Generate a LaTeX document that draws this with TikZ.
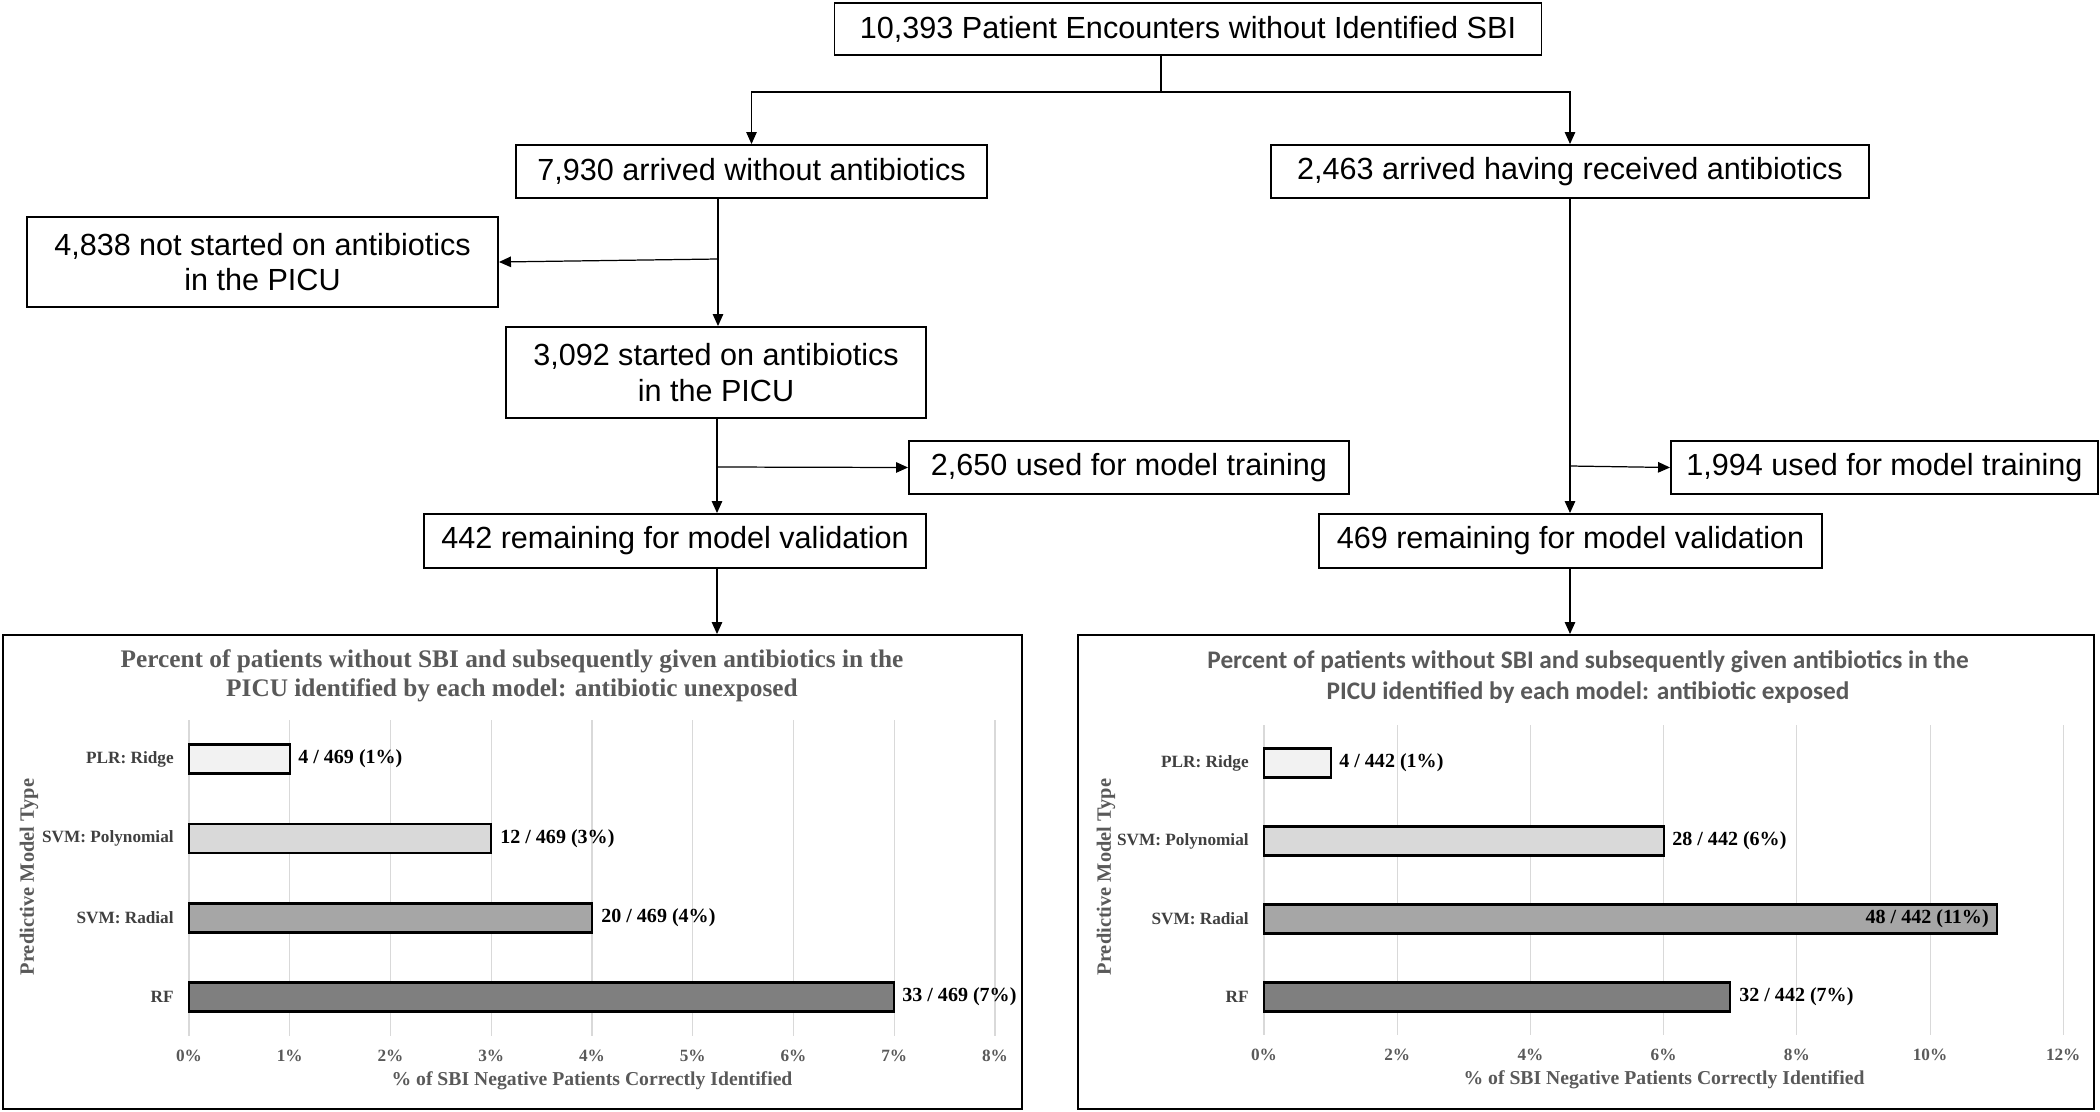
\documentclass[tikz,border=0pt]{standalone}
\usepackage{fontspec}
\setmainfont{Liberation Serif}
\newfontfamily\flowfont{Liberation Sans}
\newfontfamily\calfont{Carlito}
\usetikzlibrary{arrows.meta}
\definecolor{titlegray}{HTML}{595959}
\definecolor{labelgray}{HTML}{404040}
\definecolor{gridgray}{HTML}{D9D9D9}
\definecolor{ridgefill}{HTML}{F2F2F2}
\definecolor{polyfill}{HTML}{D9D9D9}
\definecolor{radialfill}{HTML}{A6A6A6}
\definecolor{rffill}{HTML}{7F7F7F}

\begin{document}
\begin{tikzpicture}[x=0.2mm, y=-0.2mm,
    flowbox/.style={draw, line width=1.1pt, inner sep=0pt, align=center, font=\flowfont\fontsize{17.4}{20}\selectfont},
    arr/.style={-{Triangle[length=2.4mm,width=2.1mm]}, line width=0.7pt},
    chartbox/.style={draw, line width=1.1pt, inner sep=0pt, minimum height=94.8mm},
    gridline/.style={gridgray, line width=0.6pt},
    barbox/.style={draw=black, line width=1.2pt},
    barlabel/.style={inner sep=0pt, font=\bfseries\fontsize{11.4}{14}\selectfont},
    catlabel/.style={anchor=east, text=labelgray, inner sep=0pt, font=\bfseries\fontsize{9.8}{12}\selectfont},
    ticklabel/.style={text=titlegray, inner sep=0pt, font=\bfseries\fontsize{9.8}{11}\selectfont},
    axistitle/.style={text=titlegray, inner sep=0pt, font=\bfseries\fontsize{11.2}{14}\selectfont},
    modeltitle/.style={text=titlegray, inner sep=0pt, rotate=90, font=\bfseries\fontsize{11.6}{13}\selectfont},
    ]
        \useasboundingbox (0,0) rectangle (2100,1111);

        \node[flowbox, minimum width=141.4mm, minimum height=10.4mm] at (1188,29) (total) {10,393 Patient Encounters without Identified SBI};
        \node[flowbox, minimum width=94.2mm, minimum height=10.6mm] at (751.5,171.5) (noabx) {7,930 arrived without antibiotics};
        \node[flowbox, minimum width=119.6mm, minimum height=10.6mm] at (1570,171.5) (abx) {2,463 arrived having received antibiotics};
        \node[flowbox, minimum width=94.2mm, minimum height=18mm] at (262.5,262) (notstarted) {4,838 not started on antibiotics\\in the PICU};
        \node[flowbox, minimum width=84mm, minimum height=18.2mm] at (716,372.5) (started) {3,092 started on antibiotics\\in the PICU};
        \node[flowbox, minimum width=88mm, minimum height=10.6mm] at (1129,467.5) (trainL) {2,650 used for model training};
        \node[flowbox, minimum width=100.4mm, minimum height=10.8mm] at (675,541) (validL) {442 remaining for model validation};
        \node[flowbox, minimum width=85.4mm, minimum height=10.6mm] at (1884.5,467.5) (trainR) {1,994 used for model training};
        \node[flowbox, minimum width=100.6mm, minimum height=10.8mm] at (1570.5,541) (validR) {469 remaining for model validation};

        \node[chartbox, minimum width=203.8mm] at (512.5,872) (chartL) {};
        \node[chartbox, minimum width=203.2mm] at (1586,872) (chartR) {};

        \coordinate (split) at (1161,92);
        \coordinate (splitC) at (718,259);
        \coordinate (splitE) at (717,467);
        \coordinate (splitG) at (1570,466);

        \draw[line width=0.7pt] (total.south -| split) -- (split);
        \draw[arr] (split) -| (noabx.north);
        \draw[arr] (split) -| (abx.north);
        \draw[arr] (noabx.south -| splitC) -- (started.north -| splitC);
        \draw[arr] (splitC) -- (notstarted.east);
        \draw[arr] (started.south -| splitE) -- (validL.north -| splitE);
        \draw[arr] (splitE) -- (trainL.west);
        \draw[arr] (validL.south -| splitE) -- (chartL.north -| splitE);
        \draw[arr] (abx.south -| splitG) -- (validR.north -| splitG);
        \draw[arr] (splitG) -- (trainR.west);
        \draw[arr] (validR.south -| splitG) -- (chartR.north -| splitG);

        \node[text=titlegray, inner sep=0pt, align=center, font=\bfseries\fontsize{14.4}{16.8}\selectfont] at (512,676) (titleL) {Percent of patients without SBI and subsequently given antibiotics in the\\PICU identified by each model: antibiotic unexposed};
        \draw[gridline] (189,720) -- (189,1036);
        \draw[gridline] (289.75,720) -- (289.75,1036);
        \draw[gridline] (390.5,720) -- (390.5,1036);
        \draw[gridline] (491.25,720) -- (491.25,1036);
        \draw[gridline] (592,720) -- (592,1036);
        \draw[gridline] (692.75,720) -- (692.75,1036);
        \draw[gridline] (793.5,720) -- (793.5,1036);
        \draw[gridline] (894.25,720) -- (894.25,1036);
        \draw[gridline] (995,720) -- (995,1036);
        \draw[barbox, fill=ridgefill] (189,744.5) rectangle (289.75,773.5);
        \draw[barbox, fill=polyfill] (189,824) rectangle (491.25,853);
        \draw[barbox, fill=radialfill] (189,903.5) rectangle (592,932.5);
        \draw[barbox, fill=rffill] (189,982.5) rectangle (894.25,1011.5);
        \node[barlabel, anchor=west] at (298,759) (ridgeL) {4 / 469 (1\%)};
        \node[barlabel, anchor=west] at (500,838.5) (polyL) {12 / 469 (3\%)};
        \node[barlabel, anchor=west] at (601,918) (radialL) {20 / 469 (4\%)};
        \node[barlabel, anchor=west] at (902,997) (rfL) {33 / 469 (7\%)};
        \node[catlabel] at (174,759) (ridgecatL) {PLR: Ridge};
        \node[catlabel] at (174,838.5) (polycatL) {SVM: Polynomial};
        \node[catlabel] at (174,918) (radialcatL) {SVM: Radial};
        \node[catlabel] at (174,997) (rfcatL) {RF};
        \node[ticklabel] at (189,1056) (tickL0) {0\%};
        \node[ticklabel] at (289.75,1056) (tickL1) {1\%};
        \node[ticklabel] at (390.5,1056) (tickL2) {2\%};
        \node[ticklabel] at (491.25,1056) (tickL3) {3\%};
        \node[ticklabel] at (592,1056) (tickL4) {4\%};
        \node[ticklabel] at (692.75,1056) (tickL5) {5\%};
        \node[ticklabel] at (793.5,1056) (tickL6) {6\%};
        \node[ticklabel] at (894.25,1056) (tickL7) {7\%};
        \node[ticklabel] at (995,1056) (tickL8) {8\%};
        \node[axistitle] at (592,1081) (axisL) {\% of SBI Negative Patients Correctly Identified};
        \node[modeltitle] at (29,877) (modelL) {Predictive Model Type};

        \node[text=titlegray, inner sep=0pt, align=center, font=\calfont\bfseries\fontsize{14.4}{17.5}\selectfont] at (1588,677) (titleR) {Percent of patients without SBI and subsequently given antibiotics in the\\PICU identified by each model: antibiotic exposed};
        \draw[gridline] (1264,725) -- (1264,1035);
        \draw[gridline] (1397.2,725) -- (1397.2,1035);
        \draw[gridline] (1530.4,725) -- (1530.4,1035);
        \draw[gridline] (1663.6,725) -- (1663.6,1035);
        \draw[gridline] (1796.8,725) -- (1796.8,1035);
        \draw[gridline] (1930,725) -- (1930,1035);
        \draw[gridline] (2063.2,725) -- (2063.2,1035);
        \draw[barbox, fill=ridgefill] (1264,748.5) rectangle (1330.6,777.5);
        \draw[barbox, fill=polyfill] (1264,826.5) rectangle (1663.6,855.5);
        \draw[barbox, fill=radialfill] (1264,904.5) rectangle (1996.6,933.5);
        \draw[barbox, fill=rffill] (1264,982.5) rectangle (1730.2,1011.5);
        \node[barlabel, anchor=west] at (1339,763) (ridgeR) {4 / 442 (1\%)};
        \node[barlabel, anchor=west] at (1672,841) (polyR) {28 / 442 (6\%)};
        \node[barlabel, anchor=east] at (1989,919) (radialR) {48 / 442 (11\%)};
        \node[barlabel, anchor=west] at (1739,997) (rfR) {32 / 442 (7\%)};
        \node[catlabel] at (1249,763) (ridgecatR) {PLR: Ridge};
        \node[catlabel] at (1249,841) (polycatR) {SVM: Polynomial};
        \node[catlabel] at (1249,919) (radialcatR) {SVM: Radial};
        \node[catlabel] at (1249,997) (rfcatR) {RF};
        \node[ticklabel] at (1264,1055) (tickR0) {0\%};
        \node[ticklabel] at (1397.2,1055) (tickR2) {2\%};
        \node[ticklabel] at (1530.4,1055) (tickR4) {4\%};
        \node[ticklabel] at (1663.6,1055) (tickR6) {6\%};
        \node[ticklabel] at (1796.8,1055) (tickR8) {8\%};
        \node[ticklabel] at (1930,1055) (tickR10) {10\%};
        \node[ticklabel] at (2063.2,1055) (tickR12) {12\%};
        \node[axistitle] at (1664,1080) (axisR) {\% of SBI Negative Patients Correctly Identified};
        \node[modeltitle] at (1106,877) (modelR) {Predictive Model Type};
\end{tikzpicture}
\end{document}
